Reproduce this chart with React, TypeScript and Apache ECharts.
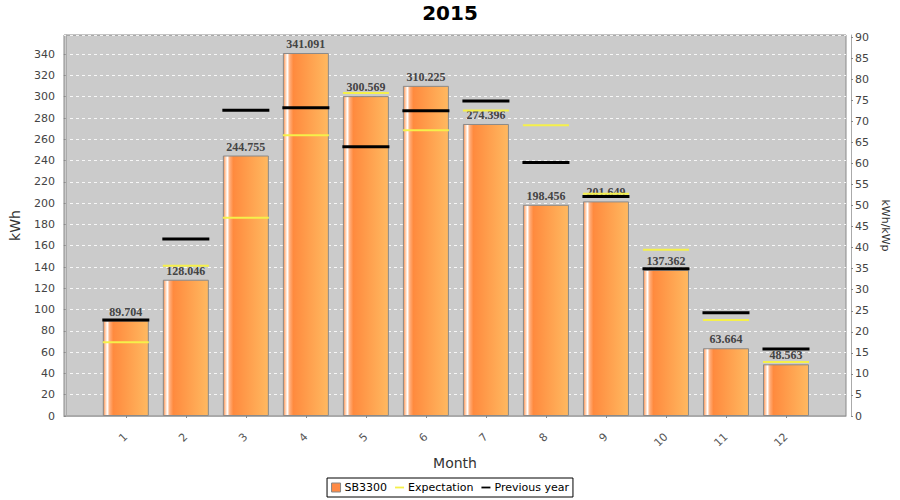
import React, { useEffect, useRef } from "react";
import * as echarts from "echarts";

const months = [1, 2, 3, 4, 5, 6, 7, 8, 9, 10, 11, 12];
const production = [89.704, 128.046, 244.755, 341.091, 300.569, 310.225, 274.396, 198.456, 201.649, 137.362, 63.664, 48.563];
const expectation = [69.2, 141.2, 186.3, 263.9, 303.4, 268.6, 287.1, 273.3, 208.8, 156.2, 90.2, 50.7];
const previousYear = [90.2, 166.2, 287.4, 289.6, 252.9, 286.8, 295.9, 238.3, 206.3, 138.4, 97.0, 62.9];

const FONT = "DejaVu Sans";

export default function App() {
  const ref = useRef<HTMLDivElement>(null);

  useEffect(() => {
    if (!ref.current) return;
    const chart = echarts.init(ref.current, undefined, { renderer: "svg" });

    const barGradient = new echarts.graphic.LinearGradient(0, 0, 1, 0, [
      { offset: 0, color: "#f58a48" },
      { offset: 0.05, color: "#ffd2b4" },
      { offset: 0.09, color: "#ffffff" },
      { offset: 0.14, color: "#ffae7c" },
      { offset: 0.22, color: "#ff8a3e" },
      { offset: 1, color: "#ffb960" },
    ]);

    const linePath = "path://M0,0M0,4H10V6H0ZM10,10";

    chart.setOption({
      animation: false,
      backgroundColor: "#ffffff",
      title: {
        text: "2015",
        left: "center",
        top: 3,
        padding: 0,
        textStyle: { fontFamily: FONT, fontSize: 20, fontWeight: "bold", color: "#000" },
      },
      legend: {
        bottom: 3,
        left: "center",
        padding: [4, 4],
        itemGap: 8,
        itemWidth: 9,
        itemHeight: 9,
        borderColor: "#000",
        borderWidth: 1,
        backgroundColor: "#fff",
        borderRadius: 0,
        textStyle: { fontFamily: FONT, fontSize: 11, color: "#000", padding: [0, 0, 0, -1] },
        data: [
          { name: "SB3300", icon: "rect", itemStyle: { color: "#ff8a45", borderColor: "#888", borderWidth: 1 } },
          { name: "Expectation", icon: linePath, itemStyle: { color: "#f5f04a" } },
          { name: "Previous year", icon: linePath, itemStyle: { color: "#000" } },
        ],
      },
      grid: {
        left: 64,
        right: 54,
        top: 35,
        bottom: 84,
        show: true,
        backgroundColor: "#cbcbcb",
        borderColor: "#888",
        borderWidth: 1,
      },
      xAxis: {
        type: "value",
        min: -0.03,
        max: 13,
        name: "Month",
        nameLocation: "middle",
        nameGap: 30,
        nameTextStyle: { fontFamily: FONT, fontSize: 14, color: "#333" },
        offset: 10,
        splitLine: { show: false },
        axisLine: { show: true, lineStyle: { color: "#aaa" } },
        axisTick: { show: true, length: 2, customValues: months, lineStyle: { color: "#888" } },
        axisLabel: {
          customValues: months,
          rotate: 45,
          margin: 9,
          fontFamily: FONT,
          fontSize: 11,
          color: "#555",
          formatter: (v: number) => String(v),
        },
      },
      yAxis: [
        {
          type: "value",
          min: 0,
          max: 358,
          interval: 20,
          position: "left",
          offset: 4,
          name: "kWh",
          nameLocation: "middle",
          nameRotate: 90,
          nameGap: 38,
          nameTextStyle: { fontFamily: FONT, fontSize: 14, color: "#333" },
          axisLine: { show: true, lineStyle: { color: "#aaa" } },
          axisTick: { show: true, length: 2, lineStyle: { color: "#888" } },
          axisLabel: {
            margin: 5,
            fontFamily: FONT,
            fontSize: 11,
            color: "#444",
            showMaxLabel: false,
            formatter: (v: number) => (v % 20 === 0 ? String(v) : ""),
          },
          splitLine: { show: true, lineStyle: { color: "#ffffff", type: [3, 3], width: 1, opacity: 0.85 } },
        },
        {
          type: "value",
          min: 0,
          max: 90.5,
          interval: 5,
          position: "right",
          offset: 5,
          name: "kWh/kWp",
          nameLocation: "middle",
          nameRotate: -90,
          nameGap: 27,
          nameTextStyle: { fontFamily: FONT, fontSize: 11, color: "#333" },
          axisLine: { show: true, lineStyle: { color: "#aaa" } },
          axisTick: { show: true, length: 2, lineStyle: { color: "#888" } },
          axisLabel: {
            margin: 4,
            fontFamily: FONT,
            fontSize: 11,
            color: "#444",
            showMaxLabel: false,
            formatter: (v: number) => (v % 5 === 0 ? String(v) : ""),
          },
          splitLine: { show: false },
        },
      ],
      series: [
        {
          name: "SB3300",
          type: "bar",
          yAxisIndex: 0,
          barWidth: 46,
          data: months.map((m, i) => [m, production[i]]),
          itemStyle: { color: barGradient, borderColor: "#8a8a8a", borderWidth: 1 },
          label: {
            show: true,
            position: "top",
            distance: 3,
            fontFamily: "Liberation Serif",
            fontWeight: "bold",
            fontSize: 12,
            color: "#444",
            formatter: (p: any) => p.value[1].toFixed(3),
          },
          z: 2,
        },
        {
          name: "Expectation",
          type: "scatter",
          yAxisIndex: 0,
          symbol: "rect",
          symbolSize: [46, 2],
          data: months.map((m, i) => [m, expectation[i]]),
          itemStyle: { color: "#f5f04a", opacity: 1 },
          z: 4,
        },
        {
          name: "Previous year",
          type: "scatter",
          yAxisIndex: 0,
          symbol: "rect",
          symbolSize: [47, 3],
          data: months.map((m, i) => [m, previousYear[i]]),
          itemStyle: { color: "#000", opacity: 1 },
          z: 5,
        },
      ],
    });

    return () => chart.dispose();
  }, []);

  return (
    <div
      ref={ref}
      style={{ position: "fixed", left: 0, top: 0, width: 900, height: 500 }}
    />
  );
}
